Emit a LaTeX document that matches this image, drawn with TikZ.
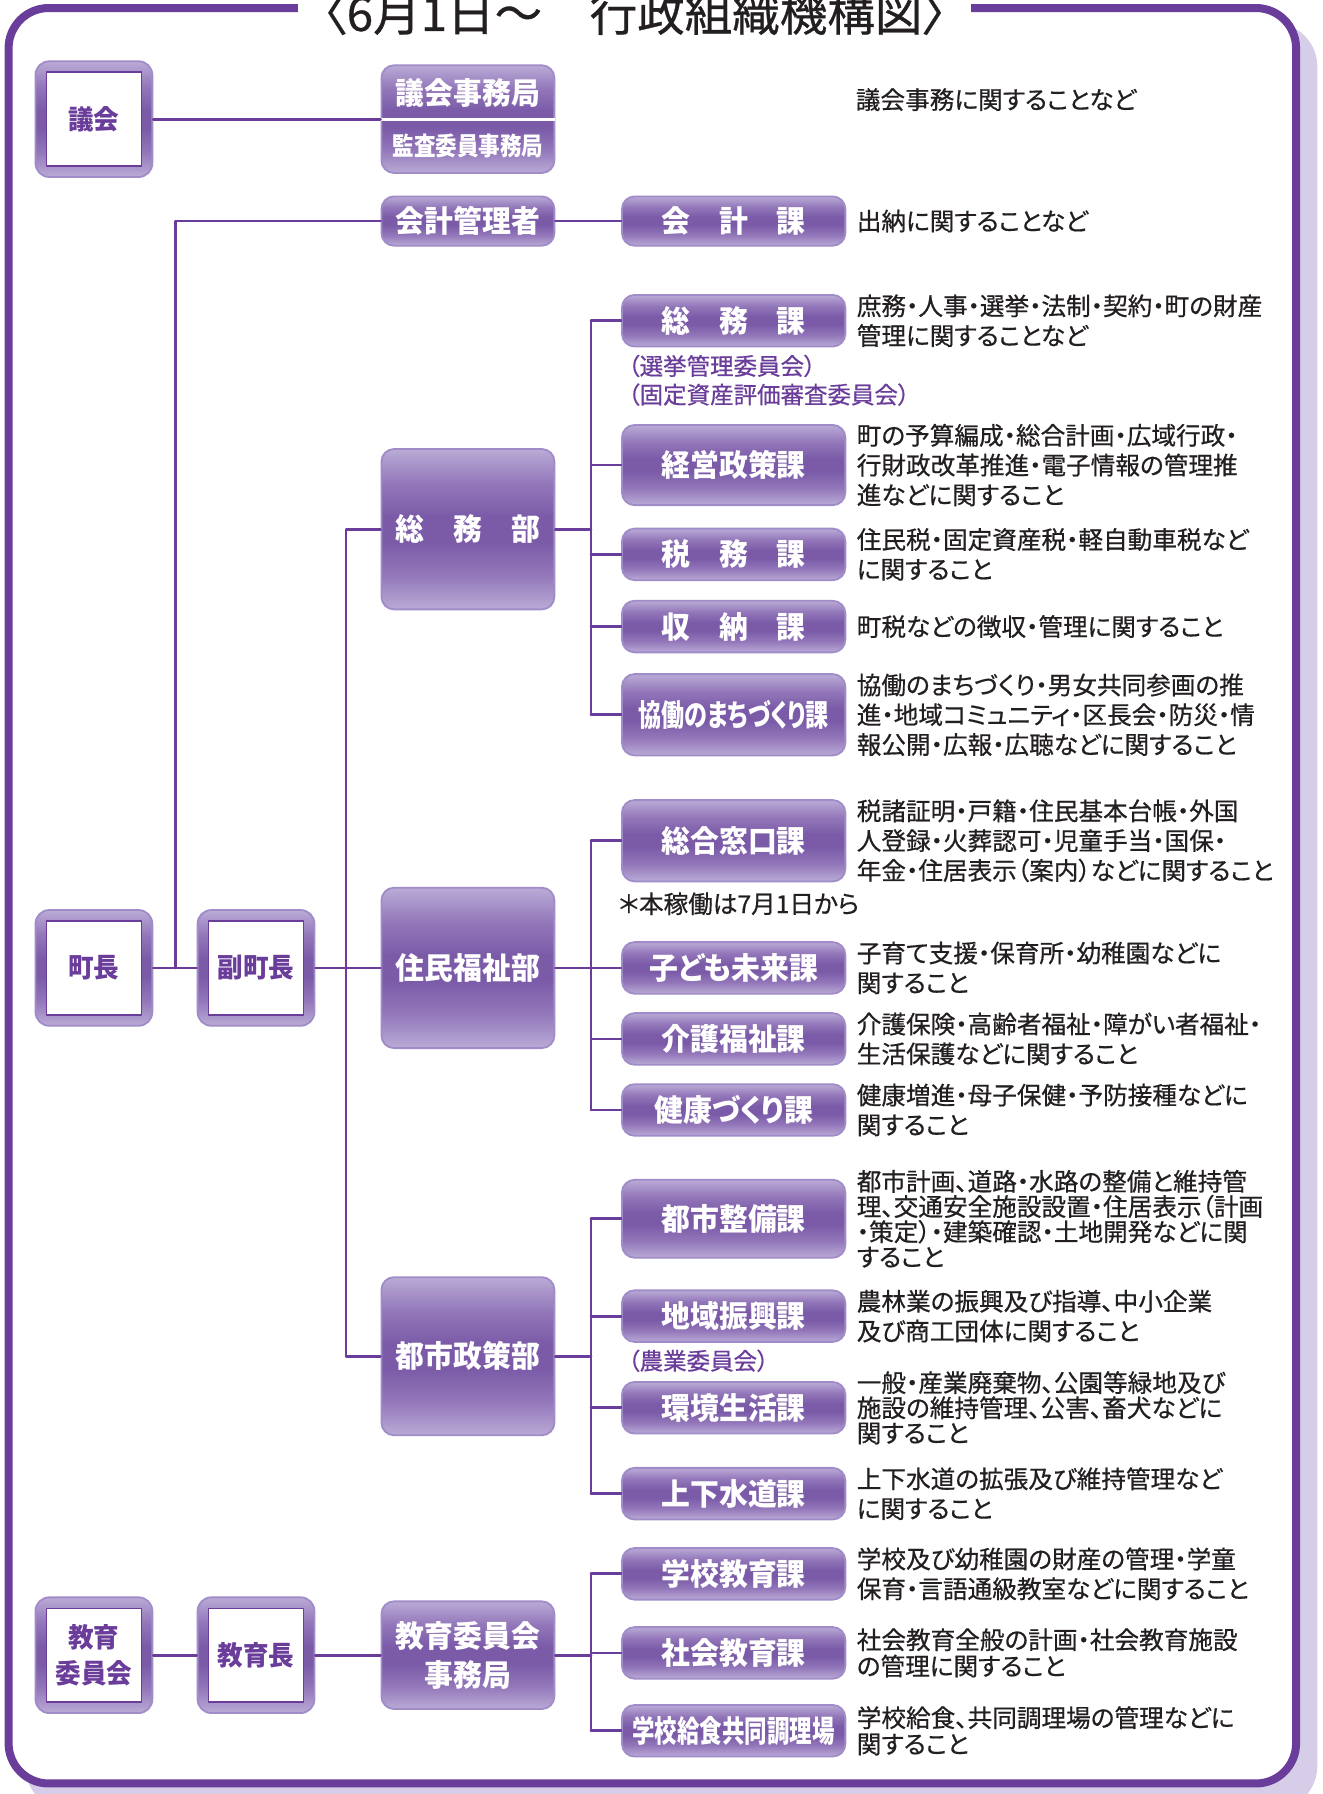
\documentclass[tikz,border=0pt]{standalone}
\usepackage{fontspec}
\usepackage{graphicx}
\usepackage{tikz}
\usetikzlibrary{positioning}
\newfontfamily\jp[RawFeature=+palt,FakeStretch=0.95]{Noto Sans CJK JP}
\newfontfamily\jpd[RawFeature=+palt,FakeBold=0.6]{Noto Sans CJK JP}
\definecolor{kikou}{HTML}{6A3D9A}
\definecolor{waku}{HTML}{A08CC8}
\definecolor{usu}{HTML}{BAABD6}
\definecolor{naka}{HTML}{9276B9}
\definecolor{koi}{HTML}{7B5BA8}
\definecolor{kage}{HTML}{D6CEE8}
\definecolor{sumi}{HTML}{231F20}
\pgfdeclareverticalshading{hako}{100bp}{color(0bp)=(usu); color(25bp)=(usu); color(36bp)=(naka); color(46bp)=(koi); color(54bp)=(koi); color(64bp)=(naka); color(75bp)=(usu); color(100bp)=(usu)}

\begin{document}
\begin{tikzpicture}[x=1pt,y=-1pt,line cap=round,line join=round,
  conn/.style={draw=kikou,line width=2.4pt},
  bu/.style={shade,shading=hako,draw=waku,line width=1.6pt,rounded corners=11pt,minimum width=151pt,inner sep=0pt,
    text=white,align=center,font=\jp\bfseries\fontsize{26.5}{34}\selectfont},
  ka/.style={bu,minimum width=195pt,minimum height=45pt},
  yaku/.style={shade,shading=hako,draw=waku,line width=1.6pt,rounded corners=12pt,minimum width=102pt,minimum height=101pt,inner sep=0pt,
    text=kikou,align=center,font=\jp\bfseries\fontsize{23.5}{32}\selectfont,
    path picture={\draw[kikou,line width=1.2pt,fill=white,sharp corners] ([shift={(9.5pt,9.5pt)}]path picture bounding box.south west) rectangle ([shift={(-9.5pt,-9.5pt)}]path picture bounding box.north east);}},
  setsu/.style={inner sep=0pt,anchor=west,align=left,text=sumi,font=\jpd\fontsize{21.5}{26}\selectfont},
  chu/.style={inner sep=0pt,anchor=west,align=left,text=kikou,font=\jpd\fontsize{20.5}{25}\selectfont}]
\useasboundingbox (0,0) rectangle (1155,1566.2);
% waku
\fill[kage,rounded corners=38pt] (22,20) rectangle (1150,1580);
\draw[kikou,line width=7pt,fill=white,rounded corners=35pt] (7.5,7) rectangle (1131.5,1557);
\node[fill=white,inner xsep=22pt,inner ysep=3pt,anchor=base,text=sumi,font=\jpd\fontsize{41.5}{42}\selectfont] (midashi) at (554,27) {〈6月1日〜　行政組織機構図〉};

% gikai
\node[yaku] (gikai) at (82,104) {議会};
\node[bu,minimum height=94pt] (jimu) at (408.5,104) {};
\draw[white,line width=2.5pt,line cap=butt] (jimu.west) -- (jimu.east);
\node[text=white,font=\jp\bfseries\fontsize{26.5}{30}\selectfont] (jimu1) at ([yshift=23pt]jimu.center) {議会事務局};
\node[text=white,font=\jp\bfseries\fontsize{22}{26}\selectfont] (jimu2) at ([yshift=-23pt]jimu.center) {\scalebox{0.9}[1]{監査委員事務局}};
\node[setsu] (s-jimu) at (747,87) {議会事務に関することなど};

% kaikei
\node[bu,minimum height=43pt] (kaikei) at (408.5,193) {会計管理者};
\node[ka,minimum height=43pt] (kaikeika) at (640.5,193) {会　計　課};
\node[setsu,right=9pt of kaikeika] (s-kaikeika) {出納に関することなど};

% somu
\node[bu,minimum height=140pt] (somu) at (408.5,462) {総　務　部};
\node[ka] (somuka) at (640.5,280) {総　務　課};
\node[chu] (iinkai) at (548,332) {（選挙管理委員会）\\（固定資産評価審査委員会）};
\node[ka,minimum height=70pt] (keiei) at (640.5,406) {経営政策課};
\node[ka] (zeimu) at (640.5,484) {税　務　課};
\node[ka] (shuno) at (640.5,547) {収　納　課};
\node[ka,minimum height=71pt] (kyodo) at (640.5,624) {\scalebox{0.8}[1]{協働のまちづくり課}};
\node[setsu,right=9pt of somuka] (s-somuka) {庶務・人事・選挙・法制・契約・町の財産\\管理に関することなど};
\node[setsu,right=9pt of keiei] (s-keiei) {町の予算編成・総合計画・広域行政・\\行財政改革推進・電子情報の管理推\\進などに関すること};
\node[setsu,right=9pt of zeimu] (s-zeimu) {住民税・固定資産税・軽自動車税など\\に関すること};
\node[setsu,right=9pt of shuno] (s-shuno) {町税などの徴収・管理に関すること};
\node[setsu,right=9pt of kyodo] (s-kyodo) {協働のまちづくり・男女共同参画の推\\進・地域コミュニティ・区長会・防災・情\\報公開・広報・広聴などに関すること};

% jumin
\node[yaku] (chocho) at (82,845) {町長};
\node[yaku] (fuku) at (223.5,845) {副町長};
\node[bu,minimum height=140pt] (jumin) at (408.5,845) {住民福祉部};
\node[ka,minimum height=71pt] (madoguchi) at (640.5,734) {総合窓口課};
\node[setsu] (honkado) at (540,789) {＊本稼働は7月1日から};
\node[ka] (kodomo) at (640.5,845) {子ども未来課};
\node[ka] (kaigo) at (640.5,907) {介護福祉課};
\node[ka] (kenko) at (640.5,969) {健康づくり課};
\node[setsu,right=9pt of madoguchi] (s-madoguchi) {税諸証明・戸籍・住民基本台帳・外国\\人登録・火葬認可・児童手当・国保・\\年金・住居表示（案内）などに関すること};
\node[setsu,right=9pt of kodomo] (s-kodomo) {子育て支援・保育所・幼稚園などに\\関すること};
\node[setsu,right=9pt of kaigo] (s-kaigo) {介護保険・高齢者福祉・障がい者福祉・\\生活保護などに関すること};
\node[setsu,right=9pt of kenko] (s-kenko) {健康増進・母子保健・予防接種などに\\関すること};

% toshi
\node[bu,minimum height=138pt] (toshi) at (408.5,1184) {都市政策部};
\node[ka,minimum height=68pt] (seibi) at (640.5,1064) {都市整備課};
\node[ka] (shinko) at (640.5,1149) {地域振興課};
\node[chu] (nogyo) at (548,1188) {（農業委員会）};
\node[ka] (kankyo) at (640.5,1229) {環境生活課};
\node[ka] (gesui) at (640.5,1304) {上下水道課};
\node[setsu,right=9pt of seibi,font=\jpd\fontsize{21.5}{22}\selectfont] (s-seibi) {都市計画、道路・水路の整備と維持管\\理、交通安全施設設置・住居表示（計画\\・策定）・建築確認・土地開発などに関\\すること};
\node[setsu,right=9pt of shinko] (s-shinko) {農林業の振興及び指導、中小企業\\及び商工団体に関すること};
\node[setsu,right=9pt of kankyo,font=\jpd\fontsize{21.5}{22}\selectfont] (s-kankyo) {一般・産業廃棄物、公園等緑地及び\\施設の維持管理、公害、畜犬などに\\関すること};
\node[setsu,right=9pt of gesui] (s-gesui) {上下水道の拡張及び維持管理など\\に関すること};

% kyoiku
\node[yaku] (kyoiku) at (82,1445) {教育\\委員会};
\node[yaku] (kyoikucho) at (223.5,1445) {教育長};
\node[bu,minimum height=94pt] (kyojimu) at (408.5,1445) {教育委員会\\事務局};
\node[ka] (gakko) at (640.5,1374) {学校教育課};
\node[ka] (shakai) at (640.5,1443) {社会教育課};
\node[ka] (kyushoku) at (640.5,1511) {\scalebox{0.78}[1]{学校給食共同調理場}};
\node[setsu,right=9pt of gakko] (s-gakko) {学校及び幼稚園の財産の管理・学童\\保育・言語通級教室などに関すること};
\node[setsu,right=9pt of shakai,font=\jpd\fontsize{21.5}{23}\selectfont] (s-shakai) {社会教育全般の計画・社会教育施設\\の管理に関すること};
\node[setsu,right=9pt of kyushoku,font=\jpd\fontsize{21.5}{23}\selectfont] (s-kyushoku) {学校給食、共同調理場の管理などに\\関すること};

% sen
\coordinate (miki) at (153,0);
\coordinate (eda) at (302,0);
\coordinate (ha) at (516,0);
\draw[conn] (gikai.east) -- (jimu.west);
\draw[conn] (kaikei.east) -- (kaikeika.west);
\draw[conn] (kaikei.west) -| (miki |- chocho.east);
\draw[conn] (chocho.east) -- (fuku.west);
\draw[conn] (fuku.east) -- (jumin.west);
\draw[conn] (somu.west) -| (eda |- toshi.west) -- (toshi.west);
\draw[conn] (kyoiku.east) -- (kyoikucho.west);
\draw[conn] (kyoikucho.east) -- (kyojimu.west);
\foreach \b/\f/\l/\ks in {somu/somuka/kyodo/{somuka,keiei,zeimu,shuno,kyodo},
    jumin/madoguchi/kenko/{madoguchi,kodomo,kaigo,kenko},
    toshi/seibi/gesui/{seibi,shinko,kankyo,gesui},
    kyojimu/gakko/kyushoku/{gakko,shakai,kyushoku}}{
  \draw[conn] (\b.east) -- (\b.east -| ha);
  \draw[conn] (ha |- \f.west) -- (ha |- \l.west);
  \foreach \k in \ks
    \draw[conn] (ha |- \k.west) -- (\k.west);
}
\end{tikzpicture}
\end{document}
